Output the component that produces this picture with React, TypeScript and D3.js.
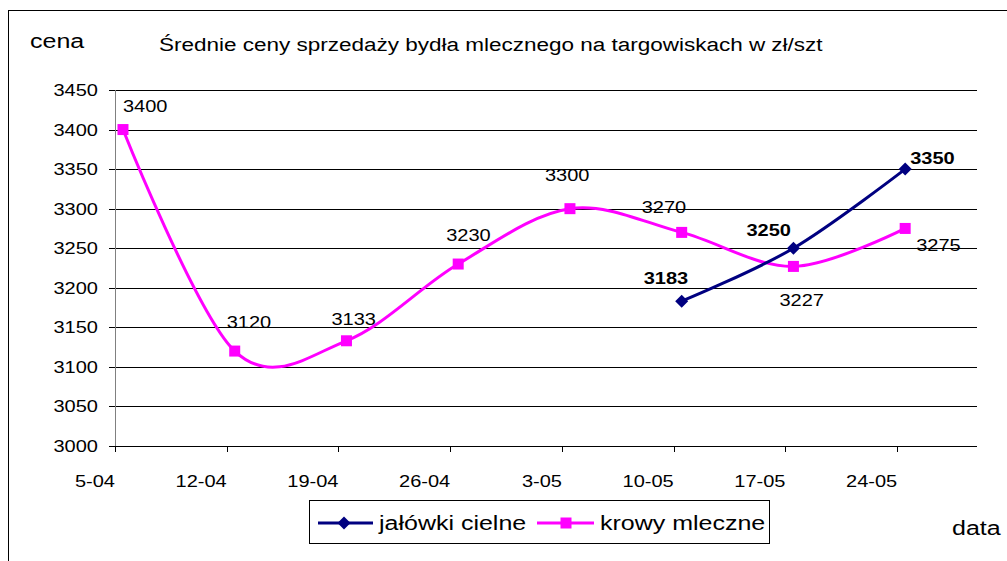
import * as d3 from 'd3';

const dateLabels = ['5-04', '12-04', '19-04', '26-04', '3-05', '10-05', '17-05', '24-05'];
const krowyMleczne: number[] = [3400, 3120, 3133, 3230, 3300, 3270, 3227, 3275];
const jalowkiCielne: (number | null)[] = [null, null, null, null, null, 3183, 3250, 3350];
const yTicks = [3000, 3050, 3100, 3150, 3200, 3250, 3300, 3350, 3400, 3450];

// label nudges (dx, dy) from the marker, placed by hand like in the original sheet
const krowyLabelPos = [[0, -18], [-8, -23], [-15, -16], [-12, -23], [-25, -28], [-40, -19], [-14, 40], [11, 23]];
const jalowkiLabelPos = [[0, 0], [0, 0], [0, 0], [0, 0], [0, 0], [-38, -17], [-47, -12], [5, -5]];

const FONT = '"Liberation Sans", Arial, sans-serif';
const SX = 1.25; // excel renders text wide
const NAVY = '#000080';
const MAGENTA = '#FF00FF';

const margin = { top: 90, right: 30, bottom: 115, left: 115 };
const W = 1007, H = 561;
const plotW = W - margin.left - margin.right; // 862
const plotH = H - margin.top - margin.bottom; // 356
const DAYS = 54;

function Txt({ x, y, size, anchor = 'start', bold = false, children }: any) {
    return (
        <text
            transform={`translate(${x},${y}) scale(${SX},1)`}
            fontFamily={FONT}
            fontSize={size}
            fontWeight={bold ? 'bold' : 'normal'}
            textAnchor={anchor}
            fill="#000"
        >
            {children}
        </text>
    );
}

export default function App() {
    const x = d3.scaleLinear().domain([0, DAYS]).range([margin.left, margin.left + plotW]);
    const y = d3.scaleLinear().domain([3000, 3450]).range([margin.top + plotH, margin.top]);
    const px = (i: number) => x(i * 7 + 0.5);

    const line = d3
        .line<[number, number]>()
        .x((d) => d[0])
        .y((d) => d[1])
        .curve(d3.curveCardinal.tension(0));

    const krowyPts: [number, number][] = krowyMleczne.map((v, i) => [px(i), y(v)]);
    const jalPts: [number, number][] = jalowkiCielne
        .map((v, i) => (v == null ? null : ([px(i), y(v)] as [number, number])))
        .filter((d): d is [number, number] => d !== null);

    const x0 = margin.left, x1 = margin.left + plotW;
    const yb = margin.top + plotH;

    return (
        <svg width={W} height={H} style={{ position: 'absolute', left: 0, top: 0, background: '#fff' }}>
            <rect x={8.5} y={10.5} width={1100} height={700} fill="#fff" stroke="#000" />

            <Txt x={30} y={48} size={20}>cena</Txt>
            <Txt x={159} y={51} size={18}>Średnie ceny sprzedaży bydła mlecznego na targowiskach w zł/szt</Txt>

            {/* gridlines + y ticks */}
            {yTicks.map((t) => (
                <g key={t}>
                    <line x1={x0 - 6} x2={x1} y1={Math.round(y(t)) + 0.5} y2={Math.round(y(t)) + 0.5} stroke="#000" />
                    <Txt x={98 / SX * SX} y={y(t) + 6} size={16} anchor="end">{t}</Txt>
                </g>
            ))}
            <line x1={x0 + 0.5} x2={x0 + 0.5} y1={margin.top} y2={yb + 6} stroke="#808080" />

            {/* x ticks */}
            {dateLabels.map((l, i) => (
                <g key={l}>
                    <line x1={Math.round(x(i * 7)) + 0.5} x2={Math.round(x(i * 7)) + 0.5} y1={yb} y2={yb + 6} stroke="#000" />
                    <Txt x={x(i * 7)} y={487} size={16} anchor="end">{l}</Txt>
                </g>
            ))}

            {/* series */}
            <path d={line(krowyPts) ?? ''} fill="none" stroke={MAGENTA} strokeWidth={3} />
            <path d={line(jalPts) ?? ''} fill="none" stroke={NAVY} strokeWidth={3} />
            {krowyPts.map(([cx, cy], i) => (
                <rect key={i} x={cx - 5.5} y={cy - 5.5} width={11} height={11} fill={MAGENTA} />
            ))}
            {jalPts.map(([cx, cy], i) => (
                <path key={i} d={`M${cx},${cy - 6.5}L${cx + 6.5},${cy}L${cx},${cy + 6.5}L${cx - 6.5},${cy}Z`} fill={NAVY} />
            ))}

            {/* data labels */}
            {krowyMleczne.map((v, i) => (
                <Txt key={'k' + i} x={px(i) + krowyLabelPos[i][0]} y={y(v) + krowyLabelPos[i][1]} size={16}>{v}</Txt>
            ))}
            {jalowkiCielne.map((v, i) =>
                v == null ? null : (
                    <Txt key={'j' + i} x={px(i) + jalowkiLabelPos[i][0]} y={y(v) + jalowkiLabelPos[i][1]} size={16} bold>{v}</Txt>
                ),
            )}

            {/* legend */}
            <rect x={309.5} y={500.5} width={460} height={43} fill="#fff" stroke="#000" />
            <line x1={318} x2={373} y1={523} y2={523} stroke={NAVY} strokeWidth={3} />
            <path d="M344,516.5L350.5,523L344,529.5L337.5,523Z" fill={NAVY} />
            <Txt x={379} y={530} size={20}>jałówki cielne</Txt>
            <line x1={537} x2={594} y1={523} y2={523} stroke={MAGENTA} strokeWidth={3} />
            <rect x={560.5} y={517.5} width={11} height={11} fill={MAGENTA} />
            <Txt x={600} y={530} size={20}>krowy mleczne</Txt>

            <Txt x={952} y={535} size={20}>data</Txt>
        </svg>
    );
}
